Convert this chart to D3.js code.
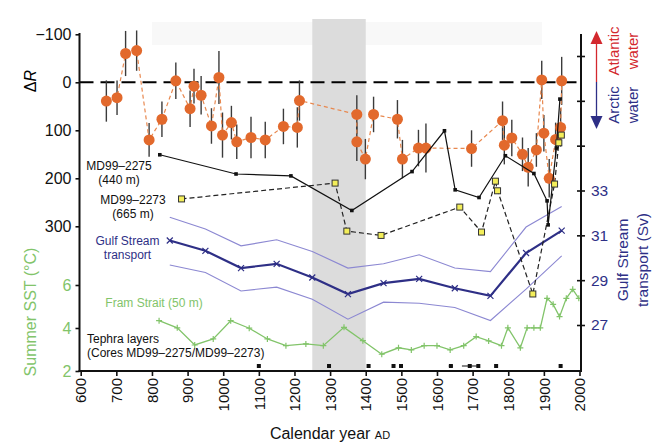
<!DOCTYPE html>
<html>
<head>
<meta charset="utf-8">
<script src="https://cdn.jsdelivr.net/npm/d3@7"></script>
<style>
  body { margin: 0; background: #fff; }
  svg { font-family: "Liberation Sans", Arial, Helvetica, sans-serif; }
</style>
</head>
<body>
<svg id="chart"></svg>
<script>
// radiocarbon reservoir age (ΔR) with 1 sigma errors
const dRYear = [672, 702, 726, 757, 792, 828, 867, 907, 918, 938, 967, 988, 998, 1023, 1038, 1078, 1118, 1169, 1208, 1214, 1375, 1375, 1399, 1422, 1489, 1503, 1548, 1569, 1697, 1784, 1789, 1810, 1840, 1856, 1879, 1894, 1900, 1915, 1933, 1947, 1950];
const dRVal = [39, 32, -60, -66, 120, 77, -3, 55, 8, 27, 91, -10, 110, 84, 124, 115, 120, 92, 94, 38, 67, 124, 160, 67, 77, 160, 137, 137, 138, 80, 131, 116, 150, 177, 141, -5, 106, 200, 119, 94, -3];
const dRErr = [43, 36, 47, 42, 35, 37, 38, 38, 36, 40, 37, 55, 47, 35, 36, 43, 38, 37, 42, 42, 40, 40, 42, 37, 40, 40, 38, 51, 38, 40, 40, 38, 35, 40, 35, 40, 38, 40, 35, 40, 50];

// MD99-2275 (440 m)
const md2275Year = [822, 1036, 1190, 1361, 1530, 1621, 1651, 1718, 1792, 1872, 1909, 1912, 1935, 1945];
const md2275Val = [151, 191, 195, 267, 186, 101, 224, 240, 153, 190, 247, 297, 137, 35];

// MD99-2273 (665 m)
const md2273Year = [883, 1314, 1347, 1443, 1664, 1725, 1764, 1770, 1869, 1930, 1942, 1949];
const md2273Val = [243, 210, 310, 319, 260, 312, 206, 226, 441, 212, 126, 110];

// Gulf Stream transport (Sv)
const gsYear = [850, 950, 1050, 1150, 1250, 1350, 1450, 1550, 1650, 1750, 1850, 1950];
const gsMean = [30.77, 30.31, 29.54, 29.73, 29.12, 28.38, 28.87, 29.06, 28.64, 28.30, 30.21, 31.21];
const gsHigh = [31.81, 31.28, 30.53, 30.80, 30.28, 29.54, 29.73, 30.13, 29.54, 29.38, 31.37, 32.29];
const gsLow = [29.68, 29.34, 28.52, 28.69, 28.15, 27.26, 28.02, 27.97, 27.78, 27.20, 28.60, 30.08];

// Fram Strait summer SST (50 m)
const framYear = [820, 871, 920, 972, 1021, 1073, 1124, 1176, 1232, 1281, 1339, 1392, 1445, 1492, 1528, 1564, 1600, 1637, 1675, 1710, 1745, 1781, 1799, 1834, 1853, 1872, 1890, 1909, 1926, 1944, 1963, 1981, 1998];
const framSST = [4.34, 4.01, 3.21, 3.49, 4.34, 3.99, 3.49, 3.18, 3.26, 3.18, 4.03, 3.41, 2.78, 3.08, 2.98, 3.18, 3.18, 2.98, 3.18, 3.60, 3.40, 3.18, 4.01, 3.08, 4.01, 4.01, 4.01, 5.38, 5.10, 4.53, 5.38, 5.80, 5.38];

// tephra layers
const tephraYear = [1100, 1297, 1408, 1478, 1499, 1639, 1692, 1716, 1766, 1947];
const tephraErr = [0, 0, 0, 4, 0, 6, 22, 0, 0, 0];

// grey band
const bandYears = [1250, 1400];

// ticks
const yearTicks = d3.range(600, 2001, 100);
const dRTicks = [-100, 0, 100, 200, 300];
const sstTicks = [6, 4, 2];
const svTicks = [27, 29, 31, 33, 35, 37, 39];
const svLabelled = [27, 29, 31, 33];

const width = 660, height = 443;
const orange = "#e2692c", navy = "#2e2f86", lilac = "#8c88d2", green = "#82c46a", red = "#d3282e";

const svg = d3.select("#chart").attr("width", width).attr("height", height);

const x = d3.scaleLinear().domain([600, 2000]).range([80.7, 579.5]);
const yR = d3.scaleLinear().domain([-100, 300]).range([34.3, 226.3]);
const ySST = d3.scaleLinear().domain([2, 6]).range([371, 285]);
const ySv = d3.scaleLinear().domain([27, 39]).range([325, 56]);

const axL = 79.5, axR = 581, axB = 371, axT = 33;

// faint box at top + grey band
svg.append("rect").attr("x", 152).attr("y", 22).attr("width", 390).attr("height", 23).attr("fill", "#f8f8f8");
svg.append("rect")
  .attr("x", x(bandYears[0])).attr("y", 19)
  .attr("width", x(bandYears[1]) - x(bandYears[0]))
  .attr("height", axB - 19)
  .attr("fill", "#dcdcdc");

// zero line
svg.append("line")
  .attr("x1", axL).attr("x2", axR).attr("y1", yR(0)).attr("y2", yR(0))
  .attr("stroke", "#000").attr("stroke-width", 2).attr("stroke-dasharray", "14,7");

// Gulf Stream envelope + mean
const gsLine = (vals) => d3.line().x((d, i) => x(gsYear[i])).y((d) => ySv(d))(vals);
[gsHigh, gsLow].forEach((v) => {
  svg.append("path").attr("d", gsLine(v)).attr("fill", "none").attr("stroke", lilac).attr("stroke-width", 1.1);
});
svg.append("path").attr("d", gsLine(gsMean)).attr("fill", "none").attr("stroke", navy).attr("stroke-width", 2.2);
svg.selectAll(".gsx").data(gsMean).enter().append("path")
  .attr("transform", (d, i) => `translate(${x(gsYear[i])},${ySv(d)})`)
  .attr("d", "M-3,-3L3,3M-3,3L3,-3")
  .attr("stroke", navy).attr("stroke-width", 1.2);

// Fram Strait SST
svg.append("path")
  .attr("d", d3.line().x((d, i) => x(framYear[i])).y((d) => ySST(d))(framSST))
  .attr("fill", "none").attr("stroke", green).attr("stroke-width", 1.3);
svg.selectAll(".fr").data(framSST).enter().append("path")
  .attr("transform", (d, i) => `translate(${x(framYear[i])},${ySST(d)})`)
  .attr("d", "M-3,0L3,0M0,-3L0,3")
  .attr("stroke", green).attr("stroke-width", 1.2);

// MD99-2273 dashed with yellow squares
svg.append("path")
  .attr("d", d3.line().x((d, i) => x(md2273Year[i])).y((d) => yR(d))(md2273Val))
  .attr("fill", "none").attr("stroke", "#222").attr("stroke-width", 1.2).attr("stroke-dasharray", "5,3");

// ΔR error bars, dashed connection, dots
svg.selectAll(".err").data(dRVal).enter().append("line")
  .attr("x1", (d, i) => x(dRYear[i])).attr("x2", (d, i) => x(dRYear[i]))
  .attr("y1", (d, i) => yR(d - dRErr[i])).attr("y2", (d, i) => yR(d + dRErr[i]))
  .attr("stroke", "#3b3b3b").attr("stroke-width", 1.4);
svg.append("path")
  .attr("d", d3.line().x((d, i) => x(dRYear[i])).y((d) => yR(d))(dRVal))
  .attr("fill", "none").attr("stroke", "#e8884f").attr("stroke-width", 1.2).attr("stroke-dasharray", "4,3");
svg.selectAll(".dot").data(dRVal).enter().append("circle")
  .attr("cx", (d, i) => x(dRYear[i])).attr("cy", (d) => yR(d))
  .attr("r", 5.5).attr("fill", orange);

// MD99-2275 solid black
svg.append("path")
  .attr("d", d3.line().x((d, i) => x(md2275Year[i])).y((d) => yR(d))(md2275Val))
  .attr("fill", "none").attr("stroke", "#111").attr("stroke-width", 1.2);
svg.selectAll(".bk").data(md2275Val).enter().append("rect")
  .attr("x", (d, i) => x(md2275Year[i]) - 1.8).attr("y", (d) => yR(d) - 1.8)
  .attr("width", 3.6).attr("height", 3.6).attr("fill", "#111");

svg.selectAll(".ye").data(md2273Val).enter().append("rect")
  .attr("x", (d, i) => x(md2273Year[i]) - 3).attr("y", (d) => yR(d) - 3)
  .attr("width", 6).attr("height", 6)
  .attr("fill", "#f3ee5a").attr("stroke", "#333").attr("stroke-width", 1);

// tephra layers
const tephraY = 366;
svg.selectAll(".tphe").data(tephraYear).enter().append("line")
  .attr("x1", (d, i) => x(d - tephraErr[i])).attr("x2", (d, i) => x(d + tephraErr[i]))
  .attr("y1", tephraY).attr("y2", tephraY).attr("stroke", "#111").attr("stroke-width", 1);
svg.selectAll(".tph").data(tephraYear).enter().append("rect")
  .attr("x", (d) => x(d) - 2).attr("y", tephraY - 2)
  .attr("width", 4).attr("height", 4).attr("fill", "#111");

// axes
const axisStyle = (g) => {
  g.select(".domain").remove();
  g.selectAll(".tick line").attr("stroke", "#111").attr("stroke-width", 1.6);
};

svg.append("g").attr("transform", `translate(${axL},0)`)
  .call(d3.axisLeft(yR).tickValues(dRTicks).tickSize(4).tickPadding(4)
    .tickFormat((d) => (d < 0 ? "\u2212" + Math.abs(d) : d)))
  .call(axisStyle)
  .call((g) => g.selectAll("text").attr("font-size", 16).attr("fill", "#111"));

svg.append("g").attr("transform", `translate(${axL},0)`)
  .call(d3.axisLeft(ySST).tickValues(sstTicks).tickSize(4).tickPadding(4).tickFormat(d3.format("d")))
  .call(axisStyle)
  .call((g) => g.selectAll("text").attr("font-size", 16).attr("fill", green));

svg.append("g").attr("transform", `translate(0,${axB})`)
  .call(d3.axisBottom(x).tickValues(yearTicks).tickSize(5).tickFormat(d3.format("d")))
  .call(axisStyle)
  .call((g) => g.selectAll("text")
    .attr("font-size", 15).attr("fill", "#111")
    .attr("text-anchor", "end")
    .attr("transform", "translate(0,7) rotate(-90)")
    .attr("x", 0).attr("y", 0).attr("dy", "0.35em"));

svg.append("g").attr("transform", `translate(${axR},0)`)
  .call(d3.axisRight(ySv).tickValues(svTicks).tickSize(4).tickPadding(6)
    .tickFormat((d) => (svLabelled.includes(d) ? d : "")))
  .call(axisStyle)
  .call((g) => g.selectAll(".tick line").attr("x1", -4))
  .call((g) => g.selectAll("text").attr("font-size", 15.5).attr("fill", navy));

// axis lines
svg.append("line").attr("x1", axL).attr("x2", axL).attr("y1", axT).attr("y2", axB + 1)
  .attr("stroke", "#111").attr("stroke-width", 2);
svg.append("line").attr("x1", axR).attr("x2", axR).attr("y1", axT + 1).attr("y2", axB + 1)
  .attr("stroke", "#111").attr("stroke-width", 2);
svg.append("line").attr("x1", axL - 1).attr("x2", axR + 1).attr("y1", axB).attr("y2", axB)
  .attr("stroke", "#111").attr("stroke-width", 2);

// axis titles
svg.append("text")
  .attr("transform", "translate(30,81) rotate(-90)")
  .attr("text-anchor", "middle").attr("dy", "0.35em").attr("font-size", 16)
  .call((t) => {
    t.append("tspan").text("\u0394");
    t.append("tspan").attr("font-style", "italic").text("R");
  });

svg.append("text")
  .attr("transform", "translate(30,312) rotate(-90)")
  .attr("text-anchor", "middle").attr("dy", "0.35em").attr("font-size", 16)
  .attr("fill", green).text("Summer SST (\u00b0C)");

svg.append("text")
  .attr("x", 330).attr("y", 439).attr("text-anchor", "middle").attr("font-size", 16).attr("fill", "#111")
  .call((t) => {
    t.append("tspan").text("Calendar year ");
    t.append("tspan").attr("font-size", 11).text("AD");
  });

[["Gulf Stream", 623], ["transport (Sv)", 643]].forEach(([s, cx]) => {
  svg.append("text")
    .attr("transform", `translate(${cx},260) rotate(-90)`)
    .attr("text-anchor", "middle").attr("dy", "0.35em").attr("font-size", 15.5)
    .attr("fill", navy).text(s);
});

// water mass arrow
const arrowX = 596.5;
svg.append("line").attr("x1", arrowX).attr("x2", arrowX).attr("y1", 43).attr("y2", 82).attr("stroke", red).attr("stroke-width", 1.3);
svg.append("line").attr("x1", arrowX).attr("x2", arrowX).attr("y1", 82).attr("y2", 117).attr("stroke", navy).attr("stroke-width", 1.3);
svg.append("path").attr("d", `M${arrowX},31L${arrowX - 6},44L${arrowX + 6},44Z`).attr("fill", red);
svg.append("path").attr("d", `M${arrowX},129L${arrowX - 6},116L${arrowX + 6},116Z`).attr("fill", navy);
[["Atlantic", 614, 51, red], ["water", 633, 51, red], ["Arctic", 614, 105, navy], ["water", 633, 105, navy]]
  .forEach(([s, cx, cy, c]) => {
    svg.append("text")
      .attr("transform", `translate(${cx},${cy}) rotate(-90)`)
      .attr("text-anchor", "middle").attr("dy", "0.35em").attr("font-size", 15)
      .attr("fill", c).text(s);
  });

// in-plot labels
const labels = [
  ["MD99\u20132275", 119, 166, "#111"],
  ["(440 m)", 119, 180, "#111"],
  ["MD99\u20132273", 133, 200, "#111"],
  ["(665 m)", 133, 214, "#111"],
  ["Gulf Stream", 127.5, 241, navy],
  ["transport", 127.5, 255, navy],
  ["Fram Strait (50 m)", 154, 303, green],
];
labels.forEach(([s, lx, ly, c]) => {
  svg.append("text").attr("x", lx).attr("y", ly).attr("dy", "0.35em")
    .attr("text-anchor", "middle").attr("font-size", 12).attr("fill", c).text(s);
});
svg.append("text").attr("x", 87).attr("y", 338.5).attr("dy", "0.35em").attr("font-size", 12).attr("fill", "#111").text("Tephra layers");
svg.append("text").attr("x", 87).attr("y", 352.5).attr("dy", "0.35em").attr("font-size", 12).attr("fill", "#111").text("(Cores MD99\u20132275/MD99\u20132273)");
</script>
</body>
</html>
